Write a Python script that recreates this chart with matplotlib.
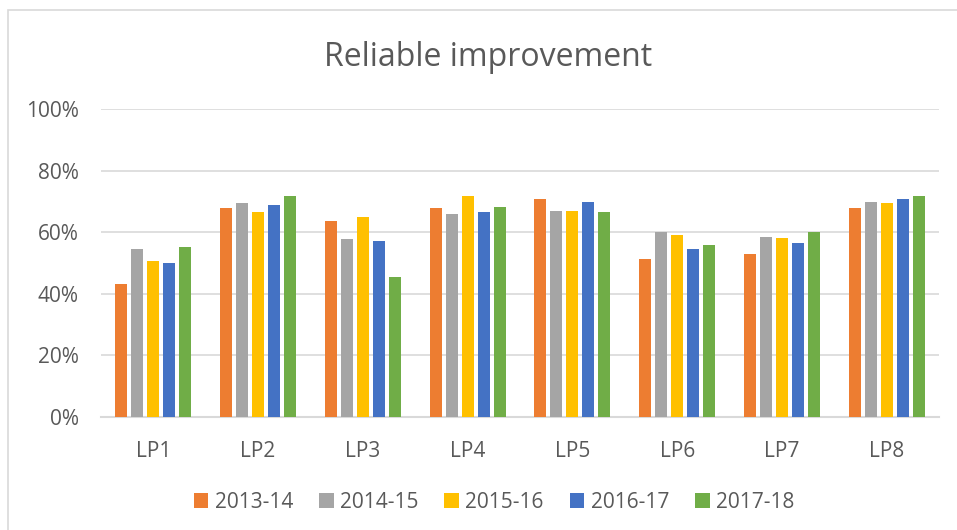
import numpy as np
import matplotlib.pyplot as plt
from matplotlib.patches import Rectangle
from matplotlib.ticker import PercentFormatter

# values (per cent)
categories = ['LP1', 'LP2', 'LP3', 'LP4', 'LP5', 'LP6', 'LP7', 'LP8']
years = ['2013-14', '2014-15', '2015-16', '2016-17', '2017-18']
vals_1314 = [43.1, 67.8, 63.5, 67.7, 70.8, 51.2, 53.0, 68.0]
vals_1415 = [54.5, 69.4, 57.7, 66.0, 66.8, 60.1, 58.5, 69.8]
vals_1516 = [50.5, 66.5, 64.8, 71.8, 67.0, 59.0, 58.0, 69.4]
vals_1617 = [49.9, 68.8, 57.1, 66.5, 69.7, 54.6, 56.4, 70.8]
vals_1718 = [55.2, 71.8, 45.4, 68.3, 66.5, 56.0, 60.2, 71.8]
colors = ['#ED7D31', '#A5A5A5', '#FFC000', '#4472C4', '#70AD47']

text_col = '#595959'
grid_col = '#D9D9D9'
plt.rcParams['font.family'] = ['Open Sans', 'DejaVu Sans']

W, H = 957, 530
fig = plt.figure(figsize=(W / 100, H / 100), dpi=100)

# chart border (light grey, cut off at right and bottom)
fig.patches.append(Rectangle((8 / W, -0.05), 1.1, 1 - 10 / H + 0.05,
                             transform=fig.transFigure, fill=False,
                             edgecolor=grid_col, linewidth=1.2))

ax = fig.add_axes([101 / W, (H - 417) / H, (939 - 101) / W, (417 - 109) / H])

series = [vals_1314, vals_1415, vals_1516, vals_1617, vals_1718]
x = np.arange(len(categories))
bar_w = 0.1145
step = 0.1527
for i, (vals, c, lab) in enumerate(zip(series, colors, years)):
    ax.bar(x + (i - 2) * step, np.array(vals) / 100, width=bar_w, color=c,
           label=lab, zorder=3)

ax.set_xlim(-0.5, len(categories) - 0.5)
ax.set_ylim(0, 1.0)
ax.set_yticks(np.arange(0, 1.01, 0.2))
ax.yaxis.set_major_formatter(PercentFormatter(1.0, decimals=0))
ax.set_xticks(x)
ax.set_xticklabels(categories)
ax.grid(axis='y', color=grid_col, linewidth=1.2, zorder=0)
for s in ['top', 'right', 'left']:
    ax.spines[s].set_visible(False)
ax.spines['bottom'].set_color(grid_col)
ax.spines['bottom'].set_linewidth(1.5)
ax.tick_params(axis='both', length=0, labelsize=15, colors=text_col)
ax.tick_params(axis='y', pad=16)
ax.tick_params(axis='x', pad=17)

fig.text(488 / W, 1 - 66 / H, 'Reliable improvement', ha='center',
         va='baseline', fontsize=23, color=text_col)

leg = fig.legend(loc='center', bbox_to_anchor=(494 / W, 1 - 502 / H),
                 ncol=5, frameon=False, fontsize=15, handlelength=0.7,
                 handleheight=0.7, handletextpad=0.3, columnspacing=1.25,
                 borderpad=0)
for t in leg.get_texts():
    t.set_color(text_col)

fig.savefig('out.png', dpi=100)
